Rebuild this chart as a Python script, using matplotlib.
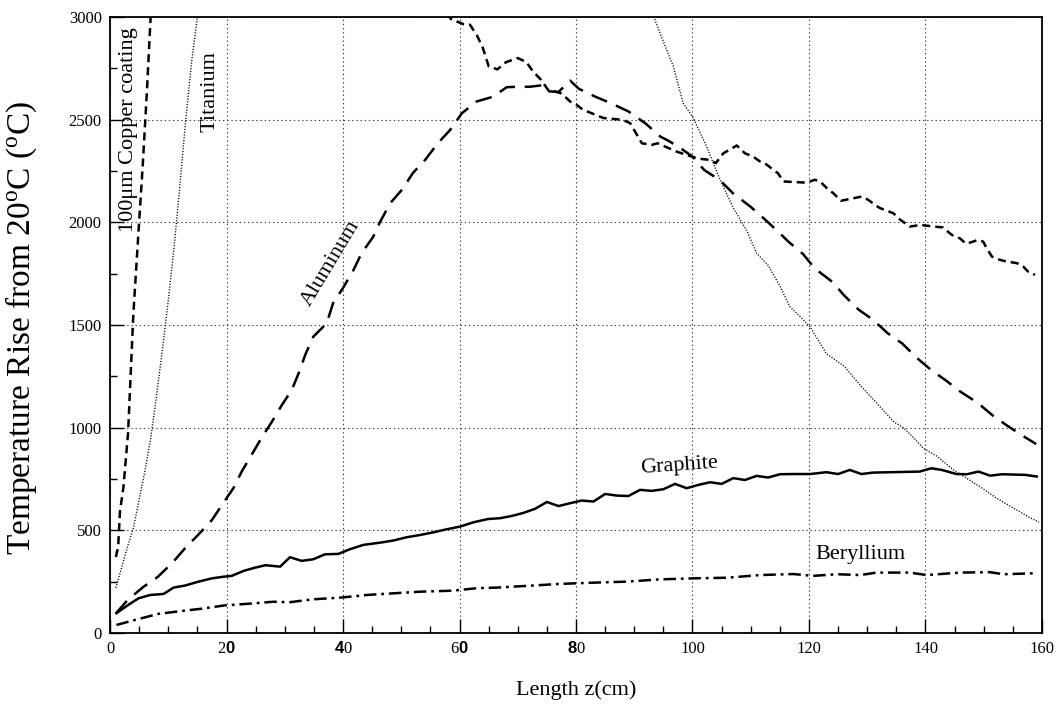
import matplotlib
matplotlib.use("Agg")
import matplotlib.pyplot as plt

plt.rcParams['font.family'] = ['Liberation Serif', 'DejaVu Serif']
plt.rcParams['mathtext.fontset'] = 'custom'
plt.rcParams['mathtext.rm'] = 'Liberation Serif'
plt.rcParams['mathtext.it'] = 'Liberation Serif:italic'
plt.rcParams['mathtext.bf'] = 'Liberation Sans:bold'
plt.rcParams['lines.scale_dashes'] = False

# temperature rise (C) vs length z (cm) for each collimator material
copper_rise_z = [1.0, 1.4, 1.7, 2.3, 3.1, 4.0, 4.9, 5.6, 6.3, 6.9, 7.1]
copper_rise_t = [370, 420, 590, 710, 975, 1550, 1960, 2270, 2620, 2960, 3070]
copper_fall_z = [58.0, 58.5, 60.7, 61.8, 63.0, 64.0, 65.0, 66.5, 68.0, 70.0, 71.5, 72.6, 74.0,
                 75.2, 77.3, 78.1, 79.0, 80.1, 81.2, 82.7, 84.7, 88.0, 89.3, 91.3, 93.0, 94.0,
                 97.3, 99.0, 101.0, 103.0, 104.0, 105.3, 107.6, 109.0, 110.4, 111.6, 112.4,
                 113.6, 114.7, 115.6, 119.6, 121.0, 121.9, 123.0, 124.2, 125.5, 127.6, 129.0,
                 130.2, 131.3, 132.2, 134.5, 135.3, 137.3, 139.1, 141.6, 143.0, 144.5, 145.9,
                 147.0, 149.0, 149.9, 150.5, 151.4, 152.8, 153.9, 155.7, 156.8, 157.6, 158.8]
copper_fall_t = [3020, 2990, 2965, 2962, 2910, 2850, 2760, 2745, 2780, 2800, 2780, 2735, 2694,
                 2645, 2630, 2612, 2588, 2572, 2548, 2531, 2508, 2499, 2483, 2385, 2377, 2385,
                 2344, 2328, 2310, 2304, 2288, 2336, 2374, 2336, 2320, 2296, 2288,
                 2262, 2238, 2199, 2193, 2207, 2199, 2168, 2141, 2105, 2117, 2125,
                 2109, 2085, 2069, 2044, 2020, 1979, 1987, 1979, 1975, 1939, 1922,
                 1895, 1914, 1906, 1874, 1833, 1817, 1809, 1801, 1784, 1760, 1744]

titanium_rise_z = [1, 2, 3, 4, 5, 6, 7, 8, 9, 10, 11, 12, 13, 14, 15, 15.3]
titanium_rise_t = [220, 320, 420, 510, 650, 790, 950, 1160, 1380, 1620, 1880, 2180, 2500, 2780, 3000, 3060]
titanium_fall_z = [92.8, 95.0, 96.7, 98.4, 100.1, 102.4, 104.7, 107.0, 109.3, 111.0, 113.0, 115.0,
                   116.7, 118.5, 120.2, 123.0, 126.0, 129.0, 131.6, 134.5, 136.2, 138.0, 139.6,
                   142.0, 145.0, 147.0, 150.0, 152.0, 155.0, 158.0, 159.5]
titanium_fall_t = [3040, 2880, 2760, 2580, 2510, 2370, 2210, 2070, 1960, 1850, 1790, 1690,
                   1590, 1540, 1490, 1360, 1300, 1200, 1120, 1030, 1000, 950, 900,
                   860, 790, 755, 700, 660, 610, 560, 540]

aluminum_z = [1.0, 3.0, 5.7, 8.2, 10.8, 12.9, 15.1, 17.5, 19.2, 21.2, 22.6, 24.3, 26.0, 27.8,
              29.5, 31.2, 32.6, 33.5, 34.9, 37.2, 38.3, 40.0, 41.8, 43.2, 45.2, 46.4, 48.1,
              50.1, 52.0, 54.1, 56.3, 58.4, 60.4, 62.9, 65.8, 68.1, 70.0, 72.0, 74.4, 75.3,
              77.0, 79.0, 80.5, 83.3, 86.0, 89.0, 92.0, 94.5, 96.0, 98.0, 100.0, 102.0, 104.7,
              107.0, 110.0, 112.0, 114.5, 116.5, 119.0, 121.0, 124.0, 126.0, 128.5, 131.0,
              133.5, 136.0, 138.5, 141.0, 143.5, 146.0, 149.0, 151.5, 154.0, 157.0, 159.0]
aluminum_t = [95, 160, 224, 273, 345, 413, 477, 550, 623, 706, 786, 867, 950, 1029,
              1110, 1183, 1280, 1354, 1443, 1508, 1607, 1680, 1768, 1850, 1930, 2004, 2093,
              2158, 2240, 2304, 2386, 2450, 2531, 2588, 2612, 2658, 2660, 2660, 2668, 2638,
              2635, 2690, 2650, 2612, 2580, 2540, 2480, 2417, 2395, 2360, 2320, 2255, 2205,
              2140, 2075, 2025, 1960, 1905, 1845, 1775, 1710, 1645, 1575, 1525,
              1460, 1410, 1340, 1280, 1230, 1175, 1120, 1060, 1010, 955, 920]

graphite_z = [1.1, 3.1, 4.9, 6.9, 9.2, 10.9, 12.9, 15.2, 17.5, 19.5, 20.9, 22.9, 24.9, 26.7,
              29.2, 30.9, 32.9, 34.9, 36.9, 39.2, 41.2, 43.5, 46.4, 48.6, 50.9, 53.2, 55.5,
              57.8, 60.1, 62.4, 64.9, 67.0, 69.0, 71.0, 73.0, 75.0, 77.0, 79.0, 81.0, 83.0,
              85.0, 87.0, 89.0, 91.0, 93.0, 95.0, 97.0, 99.0, 101.0, 103.0, 105.0, 107.0,
              109.0, 111.0, 113.0, 115.0, 117.3, 120.2, 123.0, 125.0, 127.0, 129.0, 131.0,
              139.0, 141.0, 142.8, 145.3, 147.1, 149.1, 151.1, 153.1, 157.1, 159.1]
graphite_t = [96, 136, 169, 185, 190, 221, 231, 250, 266, 274, 278, 302, 318, 330,
              323, 369, 351, 359, 383, 385, 408, 429, 440, 450, 466, 477, 490,
              505, 518, 539, 555, 559, 570, 585, 605, 638, 618, 632, 645, 640,
              677, 669, 667, 697, 692, 700, 726, 705, 721, 734, 726, 754,
              745, 765, 757, 773, 774, 774, 783, 774, 794, 774, 781,
              786, 802, 794, 774, 773, 786, 766, 773, 770, 762]

beryllium_z = [1.1, 4.9, 8.3, 12.3, 15.7, 19.6, 23.6, 28.0, 30.9, 34.9, 39.5, 44.1, 48.6,
               53.2, 58.9, 63.0, 66.4, 72.0, 77.3, 83.0, 88.7, 94.4, 100.1, 105.9, 111.6,
               117.3, 120.7, 124.8, 128.8, 131.6, 137.3, 140.2, 145.9, 151.1, 153.4, 159.1]
beryllium_t = [39, 68, 93, 107, 118, 134, 142, 152, 150, 164, 172, 185, 193,
               201, 206, 218, 221, 230, 239, 245, 250, 261, 266, 269, 282,
               287, 278, 286, 282, 294, 294, 282, 294, 296, 286, 291]

x_ticks = [0, 20, 40, 60, 80, 100, 120, 140, 160]
x_tick_labels = ['0', r'2$\mathbf{0}$', r'$\mathbf{4}$0', r'6$\mathbf{0}$', r'$\mathbf{8}$0',
                 '100', '120', '140', '160']
y_ticks = [0, 500, 1000, 1500, 2000, 2500, 3000]

fig = plt.figure(figsize=(10.6, 7.1), dpi=100)
ax = fig.add_axes([0.1038, 0.1085, 0.8792, 0.8676])

lw = 1.8
ax.plot(copper_rise_z, copper_rise_t, color='black', lw=lw, dashes=(5.8, 3.6))
ax.plot(copper_fall_z, copper_fall_t, color='black', lw=lw, dashes=(5.8, 3.6))
ax.plot(titanium_rise_z, titanium_rise_t, color='black', lw=1.0, dashes=(0.8, 1.2))
ax.plot(titanium_fall_z, titanium_fall_t, color='black', lw=1.0, dashes=(0.8, 1.2))
ax.plot(aluminum_z, aluminum_t, color='black', lw=lw, dashes=(12, 7))
ax.plot(graphite_z, graphite_t, color='black', lw=lw)
ax.plot(beryllium_z, beryllium_t, color='black', lw=lw, dashes=(9, 3.5, 2, 3.5))

ax.set_xlim(0, 160)
ax.set_ylim(0, 3000)
ax.set_xticks(x_ticks)
ax.set_xticklabels(x_tick_labels, fontsize=12)
ax.set_yticks(y_ticks)
ax.set_yticklabels([str(v) for v in y_ticks], fontsize=12)
ax.set_xticks(range(0, 161, 5), minor=True)
ax.set_yticks(range(0, 3001, 250), minor=True)
ax.tick_params(which='major', direction='in', length=10, width=1.0, pad=6)
ax.tick_params(which='minor', direction='in', length=5, width=1.0)
ax.tick_params(top=False, right=False, which='both')
ax.grid(True, which='major', color='0.25', lw=0.8, dashes=(1, 2))
for s in ax.spines.values():
    s.set_linewidth(1.3)

# curve labels
ax.text(3.1, 2450, '100μm Copper coating', rotation=90, fontsize=16, ha='center', va='center')
ax.text(17.2, 2635, 'Titanium', rotation=90, fontsize=16, ha='center', va='center')
ax.text(37.9, 1802, 'Aluminum', rotation=59, fontsize=16, ha='center', va='center',
        rotation_mode='anchor')
ax.text(97.7, 813, 'Graphite', rotation=4, fontsize=16, ha='center', va='center',
        rotation_mode='anchor')
ax.text(128.8, 380, 'Beryllium', fontsize=16, ha='center', va='center')

fig.text(576 / 1060, 1 - 690 / 710, 'Length z(cm)', fontsize=16, ha='center', va='center')
fig.text(21 / 1060, 1 - 328 / 710, r'Temperature Rise from 20$^{\mathrm{o}}$C ($^{\mathrm{o}}$C)',
         fontsize=24, rotation=90, ha='center', va='center')

fig.savefig('out.png', dpi=100)
